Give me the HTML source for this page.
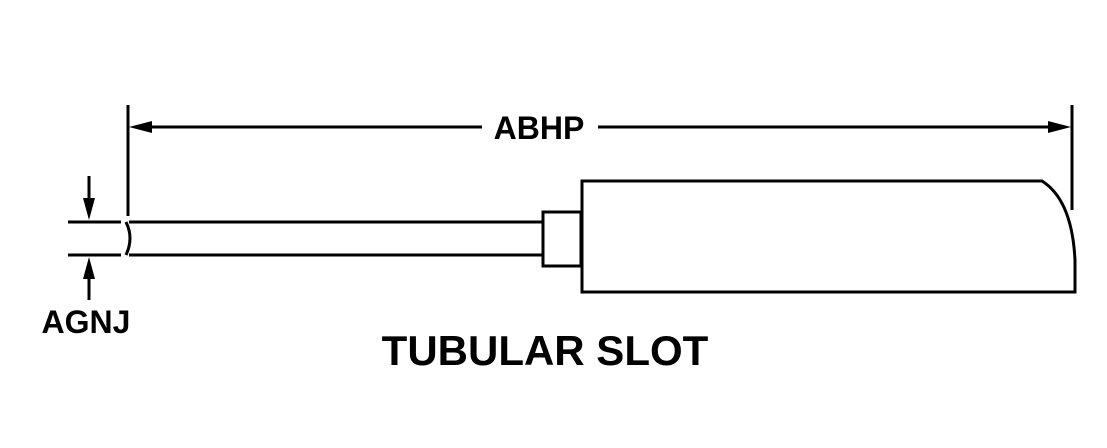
<!DOCTYPE html>
<html><head><style>
html,body{margin:0;padding:0;background:#fff;}
svg{display:block;}
text{font-family:"Liberation Sans",Arial,sans-serif;font-weight:bold;fill:#000;}
</style></head><body>
<svg width="1107" height="448" viewBox="0 0 1107 448" xmlns="http://www.w3.org/2000/svg">
<g stroke="#000" stroke-width="3" fill="none">
<!-- extension lines -->
<line x1="128" y1="105" x2="128" y2="216"/>
<line x1="1072" y1="105" x2="1072" y2="210"/>
<!-- dimension line -->
<line x1="150" y1="127" x2="482" y2="127"/>
<line x1="598" y1="127" x2="1050" y2="127"/>
<!-- shaft -->
<line x1="129" y1="222" x2="543" y2="222"/>
<line x1="129" y1="255" x2="543" y2="255"/>
<path d="M126 222 Q134 238 126 255"/>
<!-- left stubs -->
<line x1="68" y1="222" x2="121" y2="222"/>
<line x1="68" y1="255" x2="121" y2="255"/>
<!-- collar -->
<rect x="543" y="212" width="38" height="54"/>
<!-- body -->
<path d="M582 181 L1042 181 Q1072 200 1075 260 L1075 292 L582 292 Z"/>
<!-- AGNJ arrows -->
<line x1="89" y1="176" x2="89" y2="205"/>
<line x1="89" y1="272" x2="89" y2="300"/>
</g>
<g fill="#000">
<polygon points="129,127 152,121 152,133"/>
<polygon points="1071,127 1048,121 1048,133"/>
<polygon points="89,220 83,198 95,198"/>
<polygon points="89,257 83,279 95,279"/>
</g>
<text x="539" y="139" font-size="32" text-anchor="middle">ABHP</text>
<text x="86" y="333" font-size="32" text-anchor="middle">AGNJ</text>
<text x="545" y="365" font-size="42" text-anchor="middle">TUBULAR SLOT</text>
</svg>
</body></html>
